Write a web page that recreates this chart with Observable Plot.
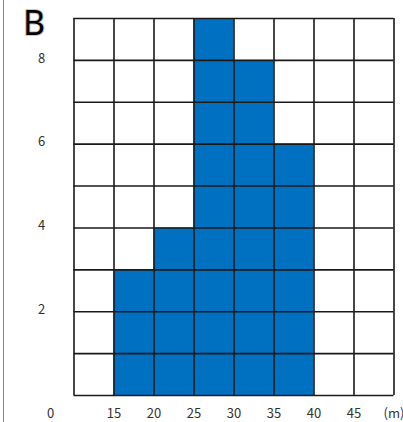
<!DOCTYPE html>
<html><head><meta charset="utf-8">
<script src="https://cdn.jsdelivr.net/npm/d3@7"></script>
<script src="https://cdn.jsdelivr.net/npm/@observablehq/plot@0.6"></script>
<style>
body{margin:0;background:#fff;}
#wrap{position:relative;width:403px;height:422px;overflow:hidden;}
#wrap svg{position:absolute;left:0;top:0;}
#edge{position:absolute;left:3px;top:0;width:1px;height:422px;background:#888;}
</style></head><body><div id="wrap"><div id="edge"></div></div>
<script>
const binStarts = [15, 20, 25, 30, 35];
const binWidth = 5;
const counts = [3, 4, 9, 8, 6];
const xGrid = [10, 15, 20, 25, 30, 35, 40, 45, 50];
const yGrid = [0, 1, 2, 3, 4, 5, 6, 7, 8, 9];
const xTicks = [15, 20, 25, 30, 35, 40, 45];
const yTicks = [2, 4, 6, 8];
const originLabel = "0";
const unitLabel = "(m)";
const panelLabel = "B";

const bars = binStarts.map((s, i) => ({x1: s, x2: s + binWidth, count: counts[i]}));
const font = "'Noto Sans CJK JP', 'Noto Sans', sans-serif";
const txt = "#333";

const chart = Plot.plot({
  width: 403, height: 422,
  marginLeft: 73.5, marginRight: 9.5, marginTop: 18, marginBottom: 27,
  style: {fontFamily: font, background: "transparent"},
  x: {domain: [10, 50], axis: null},
  y: {domain: [0, 9], axis: null},
  marks: [
    Plot.rect(bars, {x1: "x1", x2: "x2", y1: 0, y2: "count", fill: "#0070c0"}),
    Plot.ruleX(xGrid, {x: d => d, stroke: "#1a1a1a", strokeWidth: 1.6}),
    Plot.ruleY(yGrid, {y: d => d, stroke: "#1a1a1a", strokeWidth: 1.6}),
    Plot.text(xTicks, {x: d => d, text: d => String(d), frameAnchor: "bottom", dy: 18, fontSize: 13, fill: txt, lineAnchor: "middle"}),
    Plot.text([originLabel], {x: 10, text: d => d, frameAnchor: "bottom", dx: -23.5, dy: 18, fontSize: 13, fill: txt, lineAnchor: "middle"}),
    Plot.text([unitLabel], {x: 50, text: d => d, frameAnchor: "bottom", dy: 18, fontSize: 13, fill: txt, lineAnchor: "middle"}),
    Plot.text(yTicks, {y: d => d, x: 10, text: d => String(d), dx: -32.5, dy: -2, fontSize: 13, fill: txt, textAnchor: "middle", lineAnchor: "middle"}),
    Plot.text([panelLabel], {text: d => d, frameAnchor: "top-left", dx: -40, dy: 6, fontSize: 34, fill: "#000", stroke: "#c8c8c8", strokeWidth: 2, textAnchor: "middle", lineAnchor: "middle", fontFamily: "'Noto Sans', sans-serif"})
  ]
});
document.getElementById("wrap").insertBefore(chart, document.getElementById("edge"));
</script>
</body></html>
